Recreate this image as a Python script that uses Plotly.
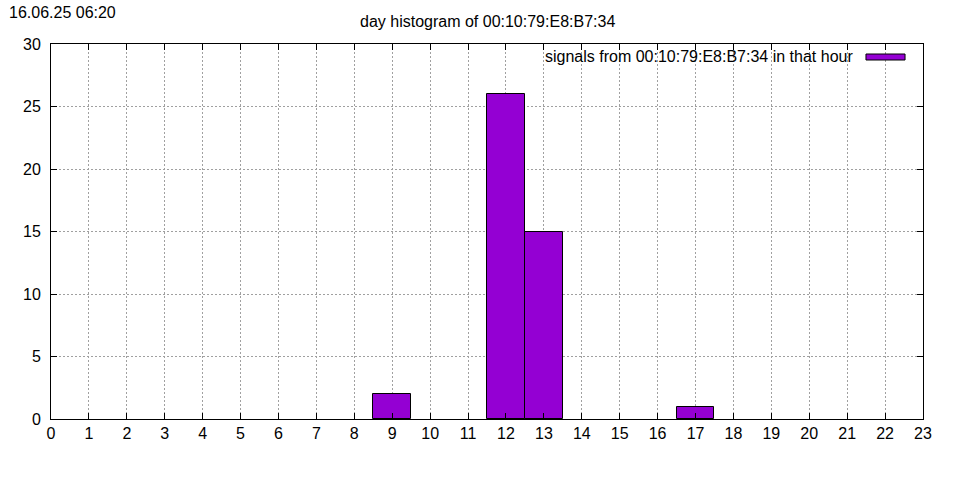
import plotly.graph_objects as go

hours = list(range(24))
counts = [0, 0, 0, 0, 0, 0, 0, 0, 0, 2, 0, 0, 26, 15, 0, 0, 0, 1, 0, 0, 0, 0, 0, 0]
title_text = "day histogram of 00:10:79:E8:B7:34"
stamp_text = "16.06.25 06:20"
legend_text = "signals from 00:10:79:E8:B7:34 in that hour"
bar_color = "#9400D3"

xs = [h for h, c in zip(hours, counts) if c > 0]
ys = [c for c in counts if c > 0]

fig = go.Figure()
fig.add_trace(go.Bar(x=xs, y=ys, width=1, marker=dict(color=bar_color, line=dict(color="black", width=1)),
                     showlegend=False))

font = "Liberation Sans, Arial, sans-serif"
axis_common = dict(showline=True, linecolor="black", linewidth=1, mirror="ticks",
                   ticks="inside", ticklen=6, tickcolor="black",
                   showgrid=True, gridcolor="#a0a0a0", griddash="2px,2px", gridwidth=1,
                   zeroline=False, tickfont=dict(family=font, size=16, color="black"))
fig.update_xaxes(range=[0, 23], tickmode="linear", tick0=0, dtick=1, **axis_common)
fig.update_yaxes(range=[0, 30], tickmode="linear", tick0=0, dtick=5, ticklabelstandoff=6, **axis_common)

fig.update_layout(
    width=960, height=480, plot_bgcolor="white", paper_bgcolor="white",
    margin=dict(l=51, r=37, t=44, b=61), bargap=0,
    font=dict(family=font, color="black"),
    annotations=[
        dict(text=title_text, xref="paper", yref="paper", x=0.5, y=1, yshift=12,
             xanchor="center", yanchor="bottom", showarrow=False, font=dict(size=16)),
        dict(text=stamp_text, xref="paper", yref="paper", x=0, xshift=-44, y=1, yshift=21,
             xanchor="left", yanchor="bottom", showarrow=False, font=dict(size=16)),
        dict(text=legend_text, xref="paper", yref="paper", x=1, xshift=-68, y=1, yshift=-12,
             xanchor="right", yanchor="middle", showarrow=False, font=dict(size=16)),
    ],
    shapes=[dict(type="rect", xref="paper", yref="paper", x0=0.9346, x1=0.9794,
                 y0=1 - 16/375, y1=1 - 10/375,
                 fillcolor=bar_color, line=dict(color="black", width=1))],
)
fig.write_html("out.html", config={"displayModeBar": False},
               post_script="document.body.style.margin='0';")
